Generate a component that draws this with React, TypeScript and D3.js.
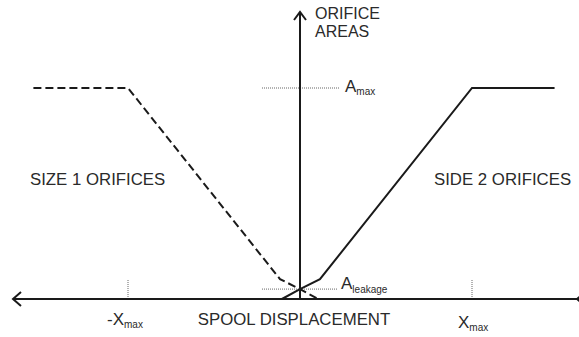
import React from "react";
import * as d3 from "d3";

const W = 579, H = 337;

// normalized displacement (-1 = -x_max, 1 = x_max), area (1 = A_max)
const side1X = [-1.55, -1.0, -0.116, 0.0, 0.105];
const side1Y = [1.0, 1.0, 0.094, 0.047, 0.0];
const side2X = [-0.105, 0.0, 0.116, 1.0, 1.48];
const side2Y = [0.0, 0.047, 0.094, 1.0, 1.0];
const aLeak = 0.047;
const aMax = 1.0;
const xTicks = [-1, 1];

export default function App() {
  const x = d3.scaleLinear().domain([-1, 1]).range([128, 472]);
  const y = d3.scaleLinear().domain([0, 1]).range([299, 88]);
  const line = d3.line<[number, number]>().x(d => x(d[0])).y(d => y(d[1]));
  const s1 = side1X.map((v, i) => [v, side1Y[i]] as [number, number]);
  const s2 = side2X.map((v, i) => [v, side2Y[i]] as [number, number]);
  const x0 = x(0), y0 = y(0);
  const font = "'Liberation Sans', Arial, sans-serif";
  const col = "#1a1a1a";
  const tcol = "#2a2a2a";
  return (
    <svg width={W} height={H} style={{ position: "absolute", left: 0, top: 0 }} fontFamily={font}>
      <rect width={W} height={H} fill="#fff" />
      {/* reference dotted lines */}
      <line x1={262} x2={340} y1={y(aMax)} y2={y(aMax)} stroke="#666" strokeWidth={1} strokeDasharray="1,1" />
      <line x1={262} x2={338} y1={y(aLeak)} y2={y(aLeak)} stroke="#666" strokeWidth={1} strokeDasharray="1,1" />
      {xTicks.map(t => (
        <line key={t} x1={x(t)} x2={x(t)} y1={280} y2={y0} stroke="#666" strokeWidth={1} strokeDasharray="1,1" />
      ))}
      {/* axes */}
      <line x1={13} x2={W + 2} y1={y0} y2={y0} stroke={col} strokeWidth={2} />
      <path d={`M${21},${y0 - 7} L${13},${y0} L${21},${y0 + 7}`} fill="none" stroke={col} strokeWidth={2} />
      <path d={`M${W + 6},${y0 - 7} L${W - 2},${y0} L${W + 6},${y0 + 7}`} fill="none" stroke={col} strokeWidth={2} />
      <line x1={x0} x2={x0} y1={12} y2={y0} stroke={col} strokeWidth={2} />
      <path d={`M${x0 - 6},${20} L${x0},${12} L${x0 + 6},${20}`} fill="none" stroke={col} strokeWidth={2} />
      {/* curves */}
      <path d={line(s1) || ""} fill="none" stroke={col} strokeWidth={2} strokeDasharray="8,4" />
      <path d={line(s2) || ""} fill="none" stroke={col} strokeWidth={2} />
      {/* labels */}
      <text x={315} y={19} fontSize={16} fill={tcol}>ORIFICE</text>
      <text x={315} y={37} fontSize={16} fill={tcol}>AREAS</text>
      <text x={345} y={y(aMax) + 4} fontSize={17} fill={tcol}>A<tspan fontSize={10} dy={3}>max</tspan></text>
      <text x={341} y={289} fontSize={17} fill={tcol}>A<tspan fontSize={10} dy={4}>leakage</tspan></text>
      <text x={30} y={185} fontSize={16.8} fill={tcol}>SIZE 1 ORIFICES</text>
      <text x={434} y={185} fontSize={16.8} fill={tcol}>SIDE 2 ORIFICES</text>
      <text x={294} y={325} fontSize={16.8} fill={tcol} textAnchor="middle">SPOOL DISPLACEMENT</text>
      <text x={107} y={325} fontSize={17} fill={tcol}>-X<tspan fontSize={10} dy={3}>max</tspan></text>
      <text x={458} y={328} fontSize={17} fill={tcol}>X<tspan fontSize={10} dy={3}>max</tspan></text>
    </svg>
  );
}
